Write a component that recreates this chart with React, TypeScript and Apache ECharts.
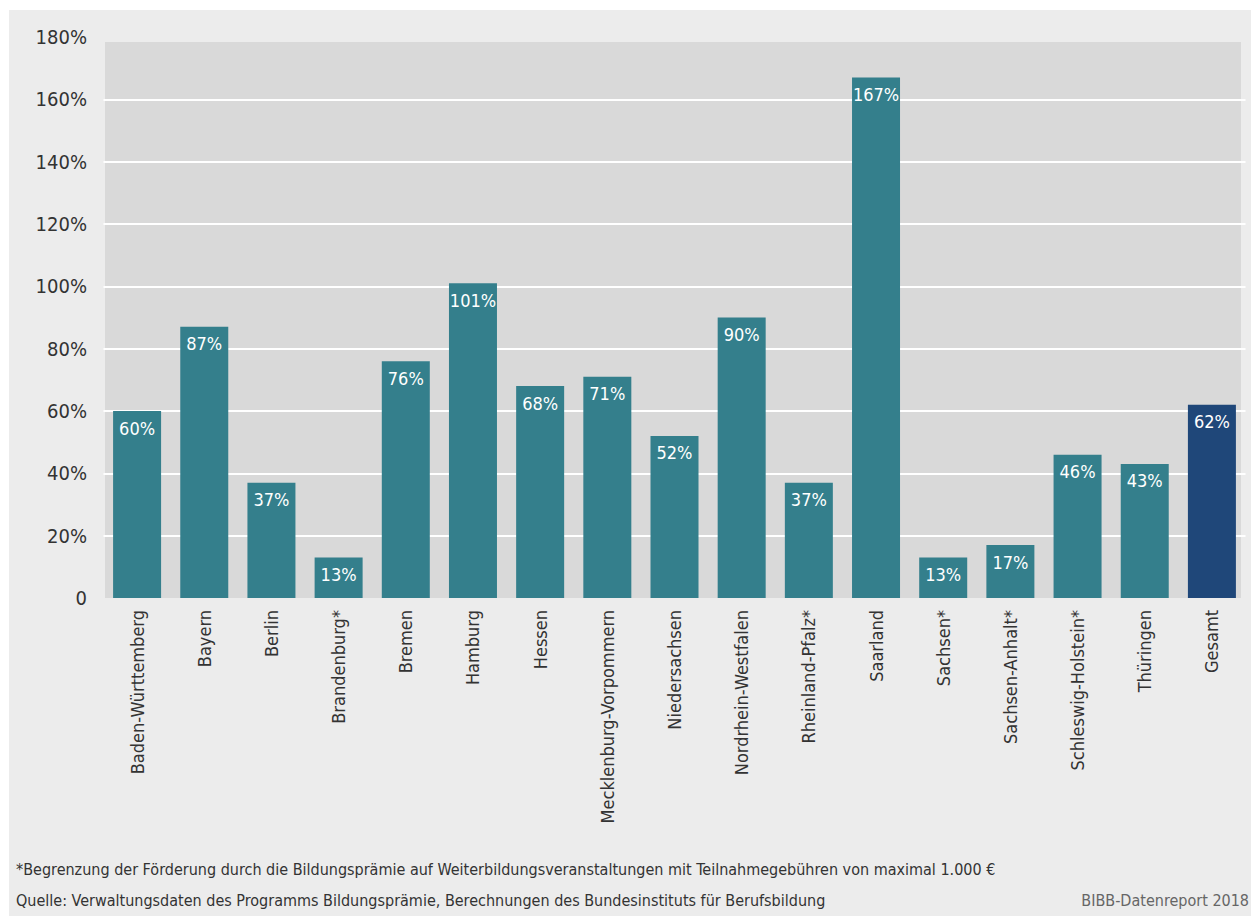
import React, { useEffect, useRef } from "react";
import * as echarts from "echarts";

const categories = [
  "Baden-Württemberg", "Bayern", "Berlin", "Brandenburg*", "Bremen", "Hamburg", "Hessen",
  "Mecklenburg-Vorpommern", "Niedersachsen", "Nordrhein-Westfalen", "Rheinland-Pfalz*",
  "Saarland", "Sachsen*", "Sachsen-Anhalt*", "Schleswig-Holstein*", "Thüringen", "Gesamt",
];
const values = [60, 87, 37, 13, 76, 101, 68, 71, 52, 90, 37, 167, 13, 17, 46, 43, 62];
const highlight = ["Gesamt"];
const footnote = "*Begrenzung der Förderung durch die Bildungsprämie auf Weiterbildungsveranstaltungen mit Teilnahmegebühren von maximal 1.000 €";
const source = "Quelle: Verwaltungsdaten des Programms Bildungsprämie, Berechnungen des Bundesinstituts für Berufsbildung";
const brand = "BIBB-Datenreport 2018";

const FONT = '"DejaVu Sans Condensed", sans-serif';

export default function App() {
  const ref = useRef<HTMLDivElement>(null);
  useEffect(() => {
    if (!ref.current) return;
    const chart = echarts.init(ref.current, undefined, { renderer: "svg" });
    chart.setOption({
      animation: false,
      backgroundColor: "#ececec",
      textStyle: { fontFamily: FONT },
      grid: { left: 94.5, right: 5.5, top: 27, bottom: 318, show: false },
      xAxis: {
        type: "category",
        data: categories,
        axisLine: { show: false },
        axisTick: { show: false },
        axisLabel: { rotate: 90, fontSize: 18, color: "#333", margin: 12, fontFamily: FONT },
      },
      yAxis: {
        type: "value",
        min: 0, max: 180, interval: 20,
        axisLine: { show: false },
        axisTick: { show: false },
        splitLine: { showMaxLine: false, showMinLine: false, lineStyle: { color: "#ffffff", width: 2 } },
        axisLabel: {
          fontSize: 20, color: "#333", margin: 16.5, fontFamily: FONT,
          formatter: (v: number) => (v === 0 ? "0" : v + "%"),
        },
      },
      series: [{
        type: "bar",
        barWidth: 48,
        data: categories.map((c, i) => ({
          value: values[i],
          itemStyle: { color: highlight.includes(c) ? "#1f4779" : "#347f8c" },
        })),
        label: {
          show: true, position: "insideTop", distance: 8,
          color: "#ffffff", fontSize: 18, fontFamily: FONT,
          formatter: (p: any) => p.value + "%",
        },
      }],
      graphic: [
        { type: "rect", z: -10, silent: true, shape: { x: 96, y: 32, width: 1136, height: 556 }, style: { fill: "#d9d9d9" } },
        { type: "text", left: 7, top: 851, style: { text: footnote, fontSize: 16, fill: "#333", fontFamily: FONT } },
        { type: "text", left: 7, top: 882, style: { text: source, fontSize: 16, fill: "#333", fontFamily: FONT } },
        { type: "text", right: 2, top: 882, style: { text: brand, fontSize: 16, fill: "#666", fontFamily: FONT } },
      ],
    });
    return () => chart.dispose();
  }, []);
  return (
    <div ref={ref} style={{ position: "absolute", left: 9, top: 10, width: 1242, height: 906 }} />
  );
}
